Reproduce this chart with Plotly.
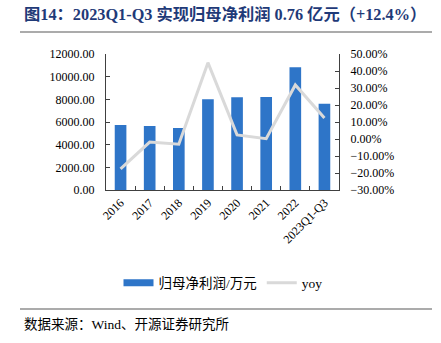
import plotly.graph_objects as go

# 归母净利润（万元）与同比增速（%）
years = ["2016", "2017", "2018", "2019", "2020", "2021", "2022", "2023Q1-Q3"]
profit = [5740, 5650, 5470, 8000, 8180, 8200, 10820, 7600]
yoy = [-17.6, -1.8, -3.1, 44.9, 2.4, 0.2, 31.8, 12.4]

title_text = "图14：2023Q1-Q3 实现归母净利润 0.76 亿元（+12.4%）"
source_text = "数据来源：Wind、开源证券研究所"

SERIF = "Liberation Serif, Times New Roman, Noto Sans CJK SC, serif"
W, H = 441, 343
L, R, T, B = 106, 339, 54, 190
BAR_COLOR = "#2E75C8"
LINE_COLOR = "#D9D9D9"


def px(x):
    return (x - L) / (R - L)


def py(y):
    return (B - y) / (B - T)


fig = go.Figure()
fig.add_trace(go.Bar(
    x=years, y=profit, name="归母净利润/万元",
    marker=dict(color=BAR_COLOR, line=dict(width=0)),
    yaxis="y", showlegend=False, legendgroup="profit",
))
# flat legend swatch for the bar series
fig.add_trace(go.Scatter(
    x=[None], y=[None], name="归母净利润/万元", mode="lines",
    line=dict(color=BAR_COLOR, width=7),
    yaxis="y", legendgroup="profit", hoverinfo="skip",
))
fig.add_trace(go.Scatter(
    x=years, y=yoy, name="yoy", mode="lines",
    line=dict(color=LINE_COLOR, width=3),
    yaxis="y2",
))

axis_font = dict(family=SERIF, size=12, color="#000000")

fig.update_layout(
    width=W, height=H,
    margin=dict(l=L, r=W - R, t=T, b=H - B, autoexpand=False),
    paper_bgcolor="white", plot_bgcolor="white",
    bargap=0.6,
    showlegend=True,
    legend=dict(
        orientation="h", x=px(223), xanchor="center", y=py(283), yanchor="middle",
        font=dict(family=SERIF, size=13.5, color="#000000"),
        itemwidth=30, tracegroupgap=0, groupclick="togglegroup",
    ),
    xaxis=dict(
        type="category", tickangle=-45, tickfont=axis_font,
        showline=True, linecolor="#404040", linewidth=1,
        ticks="inside", ticklen=4, tickcolor="#404040", tickson="boundaries",
        showgrid=False, zeroline=False,
    ),
    yaxis=dict(
        range=[0, 12000], dtick=2000, tickformat=".2f", tickfont=axis_font,
        showline=True, linecolor="#404040", linewidth=1,
        ticks="inside", ticklen=4, tickcolor="#404040",
        showgrid=False, zeroline=False, ticklabelstandoff=8,
    ),
    yaxis2=dict(
        overlaying="y", side="right",
        range=[-30, 50], dtick=10, tickformat=".2f", ticksuffix="%",
        tickfont=axis_font,
        showline=True, linecolor="#404040", linewidth=1,
        ticks="inside", ticklen=4, tickcolor="#404040",
        showgrid=False, zeroline=False, ticklabelstandoff=8,
    ),
    shapes=[
        dict(type="line", xref="paper", yref="paper",
             x0=px(20), x1=px(432), y0=py(32), y1=py(32),
             line=dict(color="#595959", width=1.2)),
        dict(type="line", xref="paper", yref="paper",
             x0=px(20), x1=px(432), y0=py(309), y1=py(309),
             line=dict(color="#595959", width=1.2)),
    ],
    annotations=[
        dict(text="<b>" + title_text + "</b>", xref="paper", yref="paper",
             x=px(22), y=py(15), xanchor="left", yanchor="middle",
             showarrow=False,
             font=dict(family=SERIF, size=16.3, color="#1F3A78")),
        dict(text=source_text, xref="paper", yref="paper",
             x=px(22), y=py(324), xanchor="left", yanchor="middle",
             showarrow=False,
             font=dict(family=SERIF, size=13.5, color="#000000")),
    ],
)

fig.write_html("out.html")
